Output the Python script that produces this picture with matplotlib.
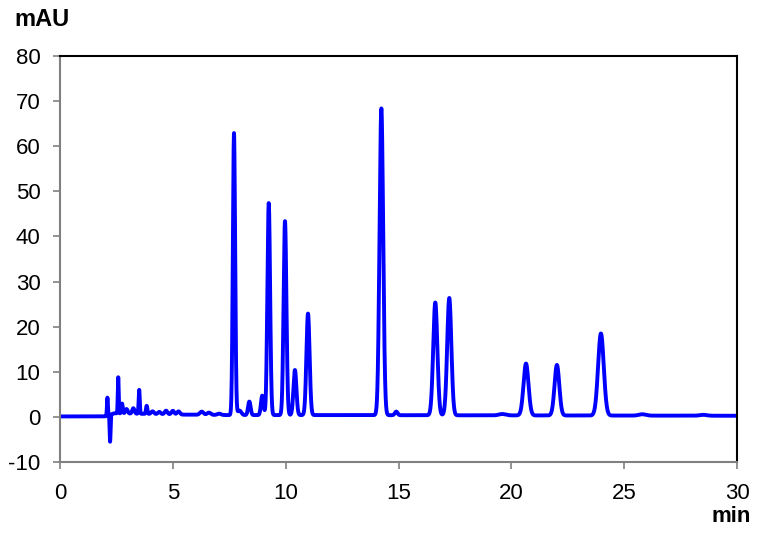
import numpy as np
import matplotlib
matplotlib.use("Agg")
import matplotlib.pyplot as plt

# ---- data ----
# retention time (min), height (mAU), sigma (min) of each peak / spike
peak_times   = [2.10, 2.22, 2.58, 2.75, 2.95, 3.25, 3.51, 3.84, 4.10, 4.40, 4.70, 5.00, 5.25,
                6.28, 6.60, 7.05, 7.71, 7.95, 8.39, 8.96, 9.25, 9.97, 10.41, 10.99,
                14.24, 14.90, 16.63, 17.25, 19.60, 20.65, 22.02, 23.97, 25.80, 28.50]
peak_heights = [4.0, -6.0, 8.0, 2.2, 1.0, 1.2, 5.3, 1.8, 0.6, 0.5, 0.8, 0.8, 0.7,
                0.7, 0.5, 0.3, 62.5, 1.0, 3.0, 4.3, 47.0, 43.0, 10.0, 22.5,
                68.0, 0.8, 25.0, 26.0, 0.3, 11.5, 11.2, 18.2, 0.3, 0.2]
peak_sigmas  = [0.02, 0.02, 0.02, 0.03, 0.05, 0.05, 0.025, 0.03, 0.06, 0.06, 0.06, 0.06, 0.06,
                0.08, 0.08, 0.08, 0.05, 0.08, 0.055, 0.055, 0.06, 0.062, 0.065, 0.07,
                0.08, 0.06, 0.092, 0.092, 0.15, 0.11, 0.105, 0.125, 0.15, 0.15]
baseline_times  = [0.0, 2.0, 2.4, 5.5, 7.5, 12.0, 30.0]
baseline_levels = [0.1, 0.1, 0.8, 0.5, 0.4, 0.4, 0.25]

x_ticks = [0, 5, 10, 15, 20, 25, 30]
y_ticks = [-10, 0, 10, 20, 30, 40, 50, 60, 70, 80]

# ---- build trace ----
t = np.linspace(0, 30, 9001)
signal = np.interp(t, baseline_times, baseline_levels)
for tr, h, s in zip(peak_times, peak_heights, peak_sigmas):
    signal = signal + h * np.exp(-0.5 * ((t - tr) / s) ** 2)

plt.rcParams['font.family'] = ['Liberation Sans', 'DejaVu Sans']
plt.rcParams['axes.unicode_minus'] = False

fig = plt.figure(figsize=(7.62, 5.33), dpi=100)
ax = fig.add_axes([60/762, (533-462)/533, (737-60)/762, (462-56)/533])
ax.plot(t, signal, color='#0000FF', lw=2.8, solid_joinstyle='round')

ax.set_xlim(0, 30)
ax.set_ylim(-10, 80)
ax.set_xticks(x_ticks)
ax.set_yticks(y_ticks)
ax.tick_params(axis='both', labelsize=16, colors='#808080', labelcolor='black',
               direction='out', length=5, width=1.2)
ax.tick_params(axis='x', pad=10)
ax.tick_params(axis='y', pad=9)
for side in ['left', 'bottom']:
    ax.spines[side].set_color('#808080')
    ax.spines[side].set_linewidth(1.5)
for side in ['top', 'right']:
    ax.spines[side].set_color('black')
    ax.spines[side].set_linewidth(1.5)

fig.text(14/762, 1 - 19/533, 'mAU', fontsize=17, fontweight='bold', ha='left', va='center')
fig.text(751/762, 1 - 522/533, 'min', fontsize=16, fontweight='bold', ha='right', va='baseline')

fig.savefig('out.png', dpi=100)
